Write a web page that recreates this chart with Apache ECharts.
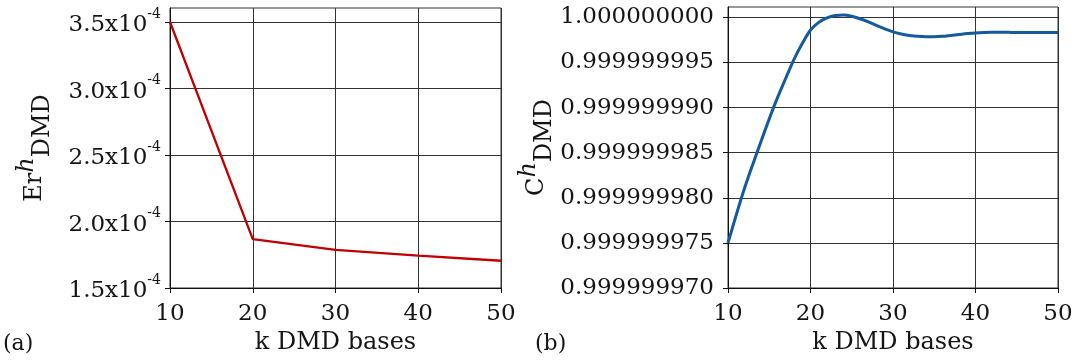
<!DOCTYPE html>
<html><head><meta charset="utf-8">
<script src="https://cdn.jsdelivr.net/npm/echarts@6/dist/echarts.min.js"></script>
<style>html,body{margin:0;padding:0;background:#fff}#c{width:1077px;height:363px}</style>
</head><body><div id="c"></div>
<script>
// ---- data ----
const kErr = [10, 20, 30, 40, 50];
const errValues = [3.5e-4, 1.868e-4, 1.786e-4, 1.743e-4, 1.705e-4];
const errTicks = [1.5e-4, 2.0e-4, 2.5e-4, 3.0e-4, 3.5e-4];
const xTicks = [10, 20, 30, 40, 50];

const kC = [10,11,12,13,14,15,16,17,18,19,20,21,22,23,24,25,26,27,28,29,30,
            31,32,33,34,35,36,37,38,39,40,41,42,43,44,45,46,47,48,49,50];
const cValues = [
  0.9999999750, 0.9999999781, 0.99999998105, 0.9999999837, 0.99999998625, 0.99999998875,
  0.9999999911, 0.99999999325, 0.99999999535, 0.9999999971, 0.9999999986,
  0.99999999945, 0.99999999995, 1.0000000002, 1.00000000025, 1.00000000012,
  0.99999999985, 0.9999999995, 0.9999999991, 0.99999999872, 0.9999999984,
  0.99999999815, 0.999999998, 0.9999999979, 0.99999999785, 0.99999999785,
  0.9999999979, 0.999999998, 0.9999999981, 0.9999999982, 0.99999999828,
  0.99999999832, 0.99999999834, 0.99999999835, 0.99999999834, 0.99999999833,
  0.99999999833, 0.99999999833, 0.99999999833, 0.99999999833, 0.99999999833
];
const cTicks = [0.999999970, 0.999999975, 0.999999980, 0.999999985, 0.999999990, 0.999999995, 1.000000000];

// scaled representations for the axes
const errScaled = errValues.map(v => v * 1e4);
const errTickScaled = errTicks.map(v => Math.round(v * 1e5) / 10);
const cScaled = cValues.map(v => (v - 1) * 1e9);
const cTickScaled = cTicks.map(v => Math.round((v - 1) * 1e9));

const FONT = '"DejaVu Serif", "Liberation Serif", serif';
const FS = 23;
const GRID_C = '#333';
const TXT = '#151515';

const chart = echarts.init(document.getElementById('c'), null, {renderer: 'canvas'});

function xAxis(idx) {
  return {
    gridIndex: idx, type: 'value', min: 10, max: 50, interval: 10,
    name: 'k DMD bases', nameLocation: 'middle', nameGap: 40,
    nameTextStyle: {fontFamily: FONT, fontSize: 24, color: TXT},
    axisLine: {show: true, onZero: false, lineStyle: {color: '#111', width: 1}},
    axisTick: {show: true, inside: false, length: 5, lineStyle: {color: '#111'}},
    axisLabel: {fontFamily: FONT, fontSize: FS, color: TXT, margin: 15,
      customValues: xTicks},
    splitLine: {show: true, lineStyle: {color: GRID_C, width: 1}}
  };
}

function nameRich() {
  return {
    a: {fontFamily: FONT, fontSize: 24, color: TXT, lineHeight: 40, verticalAlign: 'middle'},
    h: {fontFamily: FONT, fontSize: 24, fontStyle: 'italic', color: TXT, lineHeight: 24, verticalAlign: 'top'},
    d: {fontFamily: FONT, fontSize: 24, color: TXT, lineHeight: 24, verticalAlign: 'bottom'}
  };
}

chart.setOption({
  animation: false,
  textStyle: {fontFamily: FONT},
  grid: [
    {left: 170, right: 576, top: 8, bottom: 75, show: true, borderColor: '#333', borderWidth: 1, backgroundColor: 'transparent'},
    {left: 728, right: 19, top: 7, bottom: 75, show: true, borderColor: '#333', borderWidth: 1, backgroundColor: 'transparent'}
  ],
  xAxis: [xAxis(0), xAxis(1)],
  yAxis: [
    {
      gridIndex: 0, type: 'value', min: 1.5, max: 3.605,
      name: '{a|Er}{h|h}{d|DMD}', nameLocation: 'middle', nameGap: 115, nameRotate: 90,
      nameTextStyle: {rich: nameRich()},
      axisLine: {show: true, lineStyle: {color: '#111'}},
      axisTick: {show: true, length: 5, lineStyle: {color: '#111'}, customValues: errTickScaled},
      axisLabel: {
        customValues: errTickScaled, margin: 9,
        formatter: v => '{b|' + v.toFixed(1) + 'x10}{s|-4}',
        rich: {
          b: {fontFamily: FONT, fontSize: FS, color: TXT, lineHeight: 30, verticalAlign: 'bottom'},
          s: {fontFamily: FONT, fontSize: 14, color: TXT, lineHeight: 30, verticalAlign: 'top'}
        }
      },
      splitLine: {show: true, lineStyle: {color: GRID_C, width: 1}}
    },
    {
      gridIndex: 1, type: 'value', min: -30, max: 1.15,
      name: '{a|C}{h|h}{d|DMD}', nameLocation: 'middle', nameGap: 170, nameRotate: 90,
      nameTextStyle: {rich: nameRich()},
      axisLine: {show: true, lineStyle: {color: '#111'}},
      axisTick: {show: true, length: 5, lineStyle: {color: '#111'}, customValues: cTickScaled},
      axisLabel: {
        customValues: cTickScaled, margin: 14,
        fontFamily: FONT, fontSize: FS, color: TXT,
        formatter: v => (1 + v * 1e-9).toFixed(9)
      },
      splitLine: {show: true, lineStyle: {color: GRID_C, width: 1}}
    }
  ],
  series: [
    {
      type: 'line', xAxisIndex: 0, yAxisIndex: 0, symbol: 'none',
      data: kErr.map((k, i) => [k, errScaled[i]]),
      lineStyle: {color: '#c00000', width: 2.3}
    },
    {
      type: 'line', xAxisIndex: 1, yAxisIndex: 1, symbol: 'none', smooth: 0.3,
      data: kC.map((k, i) => [k, cScaled[i]]),
      lineStyle: {color: '#145a9c', width: 3}
    }
  ],
  graphic: [
    {type: 'text', left: 3, top: 333, style: {text: '(a)', fontFamily: FONT, fontSize: 22, fill: TXT}},
    {type: 'text', left: 535, top: 333, style: {text: '(b)', fontFamily: FONT, fontSize: 22, fill: TXT}}
  ]
});
</script>
</body></html>
